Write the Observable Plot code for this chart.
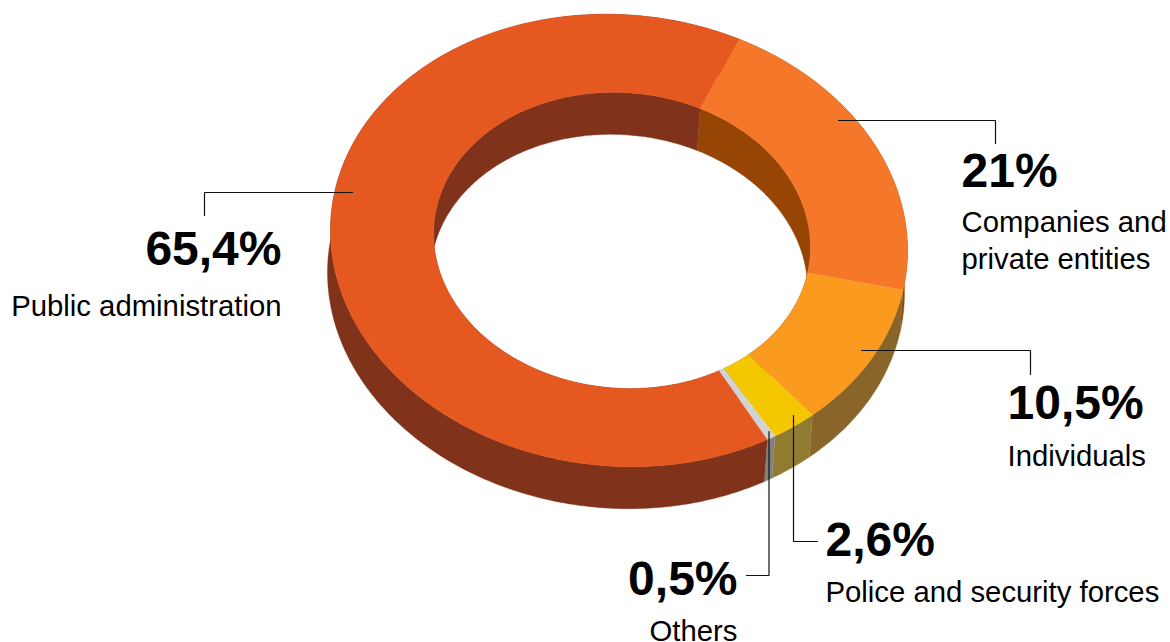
<!DOCTYPE html>
<html>
<head>
<meta charset="utf-8">
<script src="https://cdn.jsdelivr.net/npm/d3@7"></script>
<script src="https://cdn.jsdelivr.net/npm/@observablehq/plot@0.6"></script>
<style>
html,body{margin:0;padding:0;background:#fff;overflow:hidden}
svg{display:block}
</style>
</head>
<body>
<div id="chart"></div>
<script>
// Data, clockwise from the Companies / Public administration boundary
const categories = ["Companies and private entities", "Individuals", "Police and security forces", "Others", "Public administration"];
const shares = [21, 10.5, 2.6, 0.5, 65.4];
const printedShares = ["21%", "10,5%", "2,6%", "0,5%", "65,4%"];
const topColors = ["#f5772a", "#fa9a1e", "#f4c700", "#d2d2d2", "#e55820"];
const wallColors = ["#964505", "#8a6529", "#8f7c30", "#808080", "#80331a"];

// Ring geometry (pixels of the chart frame); the ellipses are slightly tilted
const startDeg = 24.5;
const tilt = 0.035;
const outer = {cx: 618.5, cy: 240, rx: 288.5, ry: 226};
const inner = {cx: 621.5, cy: 240, rx: 188.5, ry: 148};
const depth = {dx: -3, dy: 42};

function arc(e, a0, a1, shift) {
  const n = Math.max(2, Math.ceil((a1 - a0) / 0.75));
  return d3.range(n + 1).map(i => {
    const a = (a0 + (a1 - a0) * i / n) * Math.PI / 180;
    const ox = e.rx * Math.sin(a);
    return {x: e.cx + ox + (shift ? depth.dx : 0),
            y: e.cy - e.ry * Math.cos(a) + tilt * ox + (shift ? depth.dy : 0)};
  });
}
const topPts = [], outerWall = [], innerWall = [];
let acc = startDeg;
shares.forEach((s, i) => {
  const a0 = acc, a1 = acc + s * 3.6; acc = a1;
  const tag = (arr, pts) => pts.forEach(p => arr.push({...p, id: i, top: topColors[i], wall: wallColors[i]}));
  tag(topPts, [...arc(outer, a0, a1, false), ...arc(inner, a0, a1, false).reverse()]);
  tag(outerWall, [...arc(outer, a0, a1, false), ...arc(outer, a0, a1, true).reverse()]);
  tag(innerWall, [...arc(inner, a0, a1, false), ...arc(inner, a0, a1, true).reverse()]);
});

// Leader lines and label placement
const leaders = [
  {i: 0, path: [[838,120],[995,120],[995,143]]},
  {i: 1, path: [[861,350],[1030,350],[1030,374]]},
  {i: 2, path: [[793,415],[793,541],[817,541]]},
  {i: 3, path: [[768.5,431],[768.5,575],[746,575]]},
  {i: 4, path: [[352,192],[204,192],[204,215]]}
].flatMap(l => l.path.map(([x, y]) => ({x, y, id: l.i})));

const bigLabels = printedShares.map((text, i) => ({text, ...[
  {x: 961, y: 188, a: "start"},
  {x: 1007, y: 420, a: "start"},
  {x: 825, y: 557, a: "start"},
  {x: 737, y: 596, a: "end"},
  {x: 281, y: 266, a: "end"}
][i]}));
const smallLabels = [
  {text: "Companies and", x: 961, y: 231, a: "start"},
  {text: "private entities", x: 961, y: 268, a: "start"},
  {text: categories[1], x: 1007, y: 465, a: "start"},
  {text: categories[2], x: 825, y: 601, a: "start"},
  {text: categories[3], x: 649, y: 640, a: "start"},
  {text: categories[4], x: 281, y: 315, a: "end"}
];
const font = "'Liberation Sans', Arial, sans-serif";

const textMark = (rows, anchor, opts) => Plot.text(rows.filter(d => d.a === anchor), {
  x: "x", y: "y", text: "text", textAnchor: anchor, lineAnchor: "bottom",
  fill: "#000", fontFamily: font, ...opts
});

const chart = Plot.plot({
  width: 1170, height: 642, margin: 0,
  x: {domain: [0, 1170], range: [0, 1170], axis: null},
  y: {domain: [0, 642], range: [0, 642], axis: null},
  color: {type: "identity"},
  style: {background: "#fff", fontFamily: font},
  marks: [
    Plot.line(outerWall, {x: "x", y: "y", z: "id", fill: "wall", stroke: "wall", strokeWidth: 0.4}),
    Plot.line(innerWall, {x: "x", y: "y", z: "id", fill: "wall", stroke: "wall", strokeWidth: 0.4}),
    Plot.line(topPts, {x: "x", y: "y", z: "id", fill: "top", stroke: "top", strokeWidth: 0.4}),
    Plot.line(leaders, {x: "x", y: "y", z: "id", stroke: "#111", strokeWidth: 1.2, strokeLinejoin: "miter"}),
    ...["start", "end"].flatMap(a => [
      textMark(bigLabels, a, {fontSize: 48, fontWeight: 700, dy: -2}),
      textMark(smallLabels, a, {fontSize: 29.3, dy: 0})
    ])
  ]
});
document.getElementById("chart").append(chart);
</script>
</body>
</html>
